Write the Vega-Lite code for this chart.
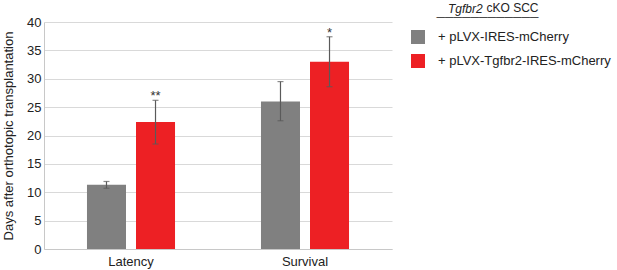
{
  "$schema": "https://vega.github.io/schema/vega-lite/v6.json",
  "width": 348,
  "height": 227,
  "autosize": {"type": "none"},
  "padding": {"left": 44, "top": 22, "right": 225, "bottom": 21},
  "background": "white",
  "title": {"text": "Tgfbr2", "font": "Liberation Sans", "fontStyle": "italic", "fontWeight": "normal", "fontSize": 12, "color": "#222222", "anchor": "start", "frame": "group", "dx": 404, "offset": -24, "baseline": "alphabetic"},
  "config": {
    "font": "Liberation Sans",
    "view": {"stroke": null},
    "axisY": {"tickCount": 8, "labelOverlap": false, "grid": true, "gridColor": "#d9d9d9", "domainColor": "#c8c8c8", "ticks": false, "labelPadding": 3, "labelFontSize": 13, "labelColor": "#222222", "titleFontSize": 13, "titleFontWeight": "normal", "titleColor": "#222222", "titlePadding": 11}
  },
  "data": {"values": [
    {"cat": "Latency", "group": "+ pLVX-IRES-mCherry", "mean": 11.3, "lo": 10.7, "hi": 11.9, "sig": ""},
    {"cat": "Latency", "group": "+ pLVX-Tgfbr2-IRES-mCherry", "mean": 22.4, "lo": 18.5, "hi": 26.2, "sig": "**"},
    {"cat": "Survival", "group": "+ pLVX-IRES-mCherry", "mean": 26.0, "lo": 22.6, "hi": 29.5, "sig": ""},
    {"cat": "Survival", "group": "+ pLVX-Tgfbr2-IRES-mCherry", "mean": 33.0, "lo": 28.6, "hi": 37.4, "sig": "*"}
  ]},
  "encoding": {
    "x": {"field": "cat", "type": "nominal", "scale": {"paddingInner": 0.494, "paddingOuter": 0.247},
      "axis": {"labelAngle": 0, "labelFontSize": 13, "labelColor": "#222222", "ticks": false, "labelPadding": 6, "domainColor": "#c8c8c8",
        "title": ["cKO SCC", "────────────"], "titleX": 494, "titleY": -247, "titleAlign": "right", "titleBaseline": "top", "titleAnchor": null, "titleFontSize": 12, "titleFontWeight": "normal", "titleColor": "#222222", "titleLineHeight": 9}},
    "xOffset": {"field": "group", "type": "nominal", "scale": {"paddingInner": 0.204, "paddingOuter": 0}}
  },
  "layer": [
    {"mark": {"type": "bar"},
     "encoding": {
       "y": {"field": "mean", "type": "quantitative", "scale": {"domain": [0, 40], "nice": false}, "title": "Days after orthotopic transplantation"},
       "color": {"field": "group", "type": "nominal", "scale": {"range": ["#808080", "#ed2024"]},
         "legend": {"title": null, "orient": "none", "legendX": 367, "legendY": 8, "padding": 0, "symbolType": "square", "symbolSize": 196, "symbolStrokeWidth": 0, "symbolOpacity": 1, "labelFontSize": 13, "labelColor": "#222222", "labelOffset": 13, "rowPadding": 10, "labelLimit": 300}}
     }},
    {"mark": {"type": "rule", "color": "#5a5a5a", "strokeWidth": 1.2},
     "encoding": {"y": {"field": "lo", "type": "quantitative", "title": "Days after orthotopic transplantation"}, "y2": {"field": "hi"}}},
    {"mark": {"type": "tick", "color": "#5a5a5a", "size": 6, "thickness": 1.2},
     "encoding": {"y": {"field": "hi", "type": "quantitative", "title": "Days after orthotopic transplantation"}}},
    {"mark": {"type": "tick", "color": "#5a5a5a", "size": 6, "thickness": 1.2},
     "encoding": {"y": {"field": "lo", "type": "quantitative", "title": "Days after orthotopic transplantation"}}},
    {"mark": {"type": "text", "fontSize": 13, "color": "#333333", "baseline": "alphabetic", "dy": 0},
     "encoding": {"y": {"field": "hi", "type": "quantitative", "title": "Days after orthotopic transplantation"}, "text": {"field": "sig"}}}
  ]
}
